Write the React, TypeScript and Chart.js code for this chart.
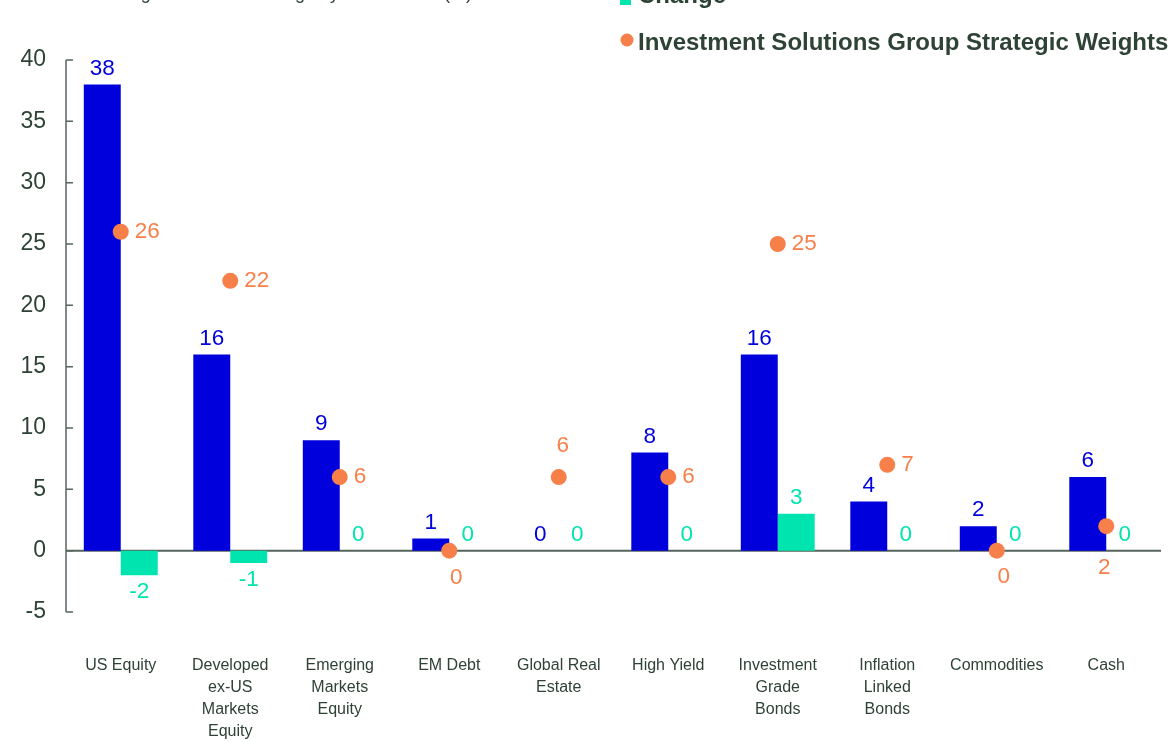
import React, { useEffect, useRef } from "react";
import { Chart, registerables } from "chart.js";

Chart.register(...registerables);

// ---- data ----
const categories: string[][] = [
  ["US Equity"],
  ["Developed", "ex-US", "Markets", "Equity"],
  ["Emerging", "Markets", "Equity"],
  ["EM Debt"],
  ["Global Real", "Estate"],
  ["High Yield"],
  ["Investment", "Grade", "Bonds"],
  ["Inflation", "Linked", "Bonds"],
  ["Commodities"],
  ["Cash"],
];
const currentWeights = [38, 16, 9, 1, 0, 8, 16, 4, 2, 6];
const changeValues = [-2, -1, 0, 0, 0, 0, 3, 0, 0, 0];
const strategicWeights = [26, 22, 6, 0, 6, 6, 25, 7, 0, 2];
const yTickValues = [-5, 0, 5, 10, 15, 20, 25, 30, 35, 40];
const seriesNames = [
  "Current Weights",
  "Change",
  "Investment Solutions Group Strategic Weights",
];
const titleText = "Strategic Allocation Change by Asset Class (%)";

// ---- styles ----
const BLUE = "#0000dc";
const TEAL = "#00e5b0";
const ORANGE = "#f77f4a";
const TEXT = "#2e4236";
const AXIS = "#56655c";
const FONT = '"Liberation Sans", Arial, sans-serif';
// placement of the strategic-weight labels: [dx, dy, align]
const strategicLabelPlacement: [number, number, CanvasTextAlign][] = [
  [14, 0, "left"],
  [14, 0, "left"],
  [14, 0, "left"],
  [7, 27, "center"],
  [4, -31, "center"],
  [14, 0, "left"],
  [14, 0, "left"],
  [14, 0, "left"],
  [7, 26, "center"],
  [-2, 42, "center"],
];

const decorPlugin = {
  id: "decor",
  beforeDatasetsDraw(chart: any) {
    const { ctx, chartArea } = chart;
    const y = chart.scales.y;
    ctx.save();
    // zero line
    ctx.strokeStyle = AXIS;
    ctx.lineWidth = 2;
    const y0 = y.getPixelForValue(0);
    ctx.beginPath();
    ctx.moveTo(chartArea.left, y0);
    ctx.lineTo(chartArea.right, y0);
    ctx.stroke();
    // left axis with inward ticks
    ctx.lineWidth = 1.5;
    ctx.beginPath();
    const x = chartArea.left;
    ctx.moveTo(x, y.getPixelForValue(yTickValues[yTickValues.length - 1]));
    ctx.lineTo(x, y.getPixelForValue(yTickValues[0]));
    yTickValues.forEach((v) => {
      const py = y.getPixelForValue(v);
      ctx.moveTo(x, py);
      ctx.lineTo(x + 7, py);
    });
    ctx.stroke();
    ctx.restore();
  },
  afterDatasetsDraw(chart: any) {
    const { ctx } = chart;
    ctx.save();
    ctx.font = `22.5px ${FONT}`;
    ctx.textBaseline = "middle";
    // bar labels
    [0, 1].forEach((di) => {
      const meta = chart.getDatasetMeta(di);
      const vals = chart.data.datasets[di].data as number[];
      ctx.fillStyle = di === 0 ? BLUE : TEAL;
      ctx.textAlign = "center";
      meta.data.forEach((el: any, i: number) => {
        const v = vals[i];
        const py = v < 0 ? el.y + 17 : el.y - 16;
        ctx.fillText(String(v), el.x, py);
      });
    });
    // strategic weights labels
    const meta = chart.getDatasetMeta(2);
    ctx.fillStyle = ORANGE;
    meta.data.forEach((el: any, i: number) => {
      const [dx, dy, align] = strategicLabelPlacement[i];
      ctx.textAlign = align;
      ctx.fillText(String(strategicWeights[i]), el.x + dx, el.y + dy);
    });
    ctx.restore();
  },
  afterDraw(chart: any) {
    const { ctx } = chart;
    ctx.save();
    // title (cut off at top)
    ctx.fillStyle = TEXT;
    ctx.font = `18px ${FONT}`;
    ctx.textAlign = "right";
    ctx.textBaseline = "alphabetic";
    ctx.fillText(titleText, 472, -1);
    // legend
    ctx.font = `bold 24px ${FONT}`;
    ctx.textAlign = "left";
    const baselines = [-44, 3, 50];
    const colors = [BLUE, TEAL, ORANGE];
    seriesNames.forEach((name, i) => {
      const b = baselines[i];
      ctx.fillStyle = colors[i];
      if (i < 2) {
        ctx.fillRect(620, b - 9, 11, 11);
      } else {
        ctx.beginPath();
        ctx.arc(627, b - 10, 6.5, 0, Math.PI * 2);
        ctx.fill();
      }
      ctx.fillStyle = TEXT;
      ctx.fillText(name, 638, b);
    });
    ctx.restore();
  },
};

export default function App() {
  const ref = useRef<HTMLCanvasElement | null>(null);
  useEffect(() => {
    if (!ref.current) return;
    const chart = new Chart(ref.current, {
      type: "bar",
      data: {
        labels: categories,
        datasets: [
          {
            type: "bar",
            label: seriesNames[0],
            data: currentWeights,
            backgroundColor: BLUE,
            categoryPercentage: 0.675,
            barPercentage: 1,
            order: 2,
          },
          {
            type: "bar",
            label: seriesNames[1],
            data: changeValues,
            backgroundColor: TEAL,
            categoryPercentage: 0.675,
            barPercentage: 1,
            order: 2,
          },
          {
            type: "line",
            label: seriesNames[2],
            data: strategicWeights,
            showLine: false,
            pointRadius: 8,
            pointHoverRadius: 8,
            pointBackgroundColor: ORANGE,
            pointBorderWidth: 0,
            borderColor: ORANGE,
            order: 0,
          },
        ] as any,
      },
      options: {
        animation: false,
        responsive: false,
        layout: { padding: { top: 60, right: 7, left: 0, bottom: 0 } },
        plugins: {
          legend: { display: false },
          tooltip: { enabled: false },
          title: { display: false },
        },
        scales: {
          x: {
            grid: { display: false, drawTicks: false },
            border: { display: false },
            ticks: {
              color: TEXT,
              font: { family: FONT, size: 16, lineHeight: 1.375 },
              padding: 43,
              maxRotation: 0,
              autoSkip: false,
            },
            afterFit(scale: any) {
              scale.height = 130;
            },
          },
          y: {
            min: -5,
            max: 40,
            grid: { display: false, drawTicks: false },
            border: { display: false },
            ticks: {
              stepSize: 5,
              color: TEXT,
              font: { family: FONT, size: 23 },
              padding: 20,
            },
            afterFit(scale: any) {
              scale.width = 66;
            },
          },
        },
      } as any,
      plugins: [decorPlugin],
    });
    return () => chart.destroy();
  }, []);
  return (
    <div
      style={{
        position: "fixed",
        left: 0,
        top: 0,
        width: 1169,
        height: 742,
        overflow: "hidden",
        background: "#fff",
      }}
    >
      <canvas ref={ref} width={1169} height={742} />
    </div>
  );
}
